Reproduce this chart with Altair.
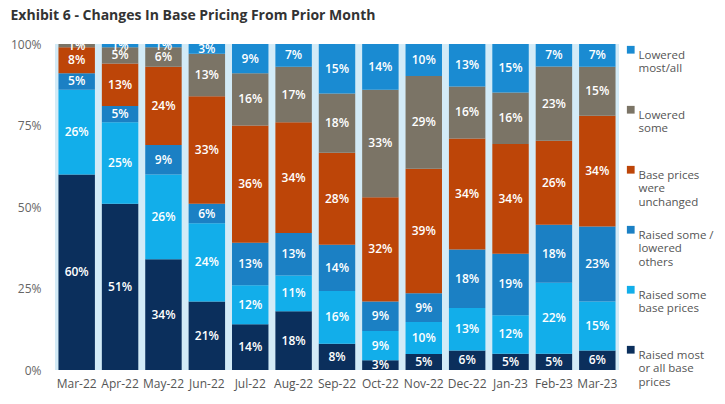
import altair as alt
import pandas as pd

months = ["Mar-22", "Apr-22", "May-22", "Jun-22", "Jul-22", "Aug-22", "Sep-22",
          "Oct-22", "Nov-22", "Dec-22", "Jan-23", "Feb-23", "Mar-23"]

raised_most = [60, 51, 34, 21, 14, 18, 8, 3, 5, 6, 5, 5, 6]
raised_some = [26, 25, 26, 24, 12, 11, 16, 9, 10, 13, 12, 22, 15]
raised_lowered = [5, 5, 9, 6, 13, 13, 14, 9, 9, 18, 19, 18, 23]
unchanged = [8, 13, 24, 33, 36, 34, 28, 32, 39, 34, 34, 26, 34]
lowered_some = [1, 5, 6, 13, 16, 17, 18, 33, 29, 16, 16, 23, 15]
lowered_most = [0, 1, 1, 3, 9, 7, 15, 14, 10, 13, 15, 7, 7]

series_names = [
    "Raised most\nor all base\nprices",
    "Raised some\nbase prices",
    "Raised some /\nlowered\nothers",
    "Base prices\nwere\nunchanged",
    "Lowered\nsome",
    "Lowered\nmost/all",
]
series_values = [raised_most, raised_some, raised_lowered, unchanged, lowered_some, lowered_most]
series_colors = ["#0b2f5c", "#12aeea", "#1b80c4", "#bd4508", "#7b7466", "#1a8bd2"]

rows = []
for si, (name, vals) in enumerate(zip(series_names, series_values)):
    for m, v in zip(months, vals):
        rows.append({"month": m, "series": name, "order": si, "value": v})
df = pd.DataFrame(rows)

legend_order = list(reversed(series_names))
legend_colors = list(reversed(series_colors))

FONT = "Open Sans"

base = alt.Chart(df).transform_stack(
    stack="value",
    groupby=["month"],
    sort=[alt.SortField("order", order="ascending")],
    as_=["y0", "y1"],
    offset="normalize",
).transform_calculate(mid="(datum.y0 + datum.y1) / 2")

x_axis = alt.Axis(labelAngle=0, ticks=False, domain=False, labelPadding=8,
                  labelFontSize=12, labelColor="#555555", labelFont=FONT)
y_axis = alt.Axis(format="%", values=[0, 0.25, 0.5, 0.75, 1], ticks=False,
                  domain=False, grid=False, labelPadding=14,
                  labelFontSize=12, labelColor="#666666", labelFont=FONT)
x_scale = alt.Scale(paddingInner=0.16, paddingOuter=0.08)
y_scale = alt.Scale(domain=[0, 1])

bars = base.mark_bar().encode(
    x=alt.X("month:N", sort=months, title=None, scale=x_scale, axis=x_axis),
    y=alt.Y("y0:Q", title=None, scale=y_scale, axis=y_axis),
    y2="y1:Q",
    color=alt.Color("series:N", scale=alt.Scale(domain=legend_order, range=legend_colors),
                    legend=alt.Legend(title=None, orient="right", symbolType="square",
                                      symbolSize=60, symbolStrokeWidth=0,
                                      labelExpr="split(datum.label, '\\n')",
                                      labelFontSize=11.5, labelColor="#555555", labelFont=FONT,
                                      labelLimit=200, rowPadding=15, gridAlign="all",
                                      offset=6, padding=0, labelOffset=2,
                                      labelBaseline="top", symbolOffset=0)),
)

labels = base.transform_filter("datum.value > 0").mark_text(
    color="white", fontSize=12, fontWeight=600, font=FONT
).encode(
    x=alt.X("month:N", sort=months, title=None, scale=x_scale, axis=x_axis),
    y=alt.Y("mid:Q", title=None, scale=y_scale, axis=y_axis),
    text=alt.Text("label:N"),
).transform_calculate(label="datum.value + '%'")

chart = alt.layer(bars, labels).properties(
    width=564, height=326,
    padding={"left": 2, "top": 1, "right": 0, "bottom": 6},
    title=alt.TitleParams("Exhibit 6 - Changes In Base Pricing From Prior Month",
                          anchor="start", frame="bounds", fontSize=14, font=FONT,
                          fontWeight="bold", color="#333333", offset=15),
).configure_view(fill="#d3ebf7", stroke=None)

chart.save("out.html", embed_options={"renderer": "svg", "actions": False})
